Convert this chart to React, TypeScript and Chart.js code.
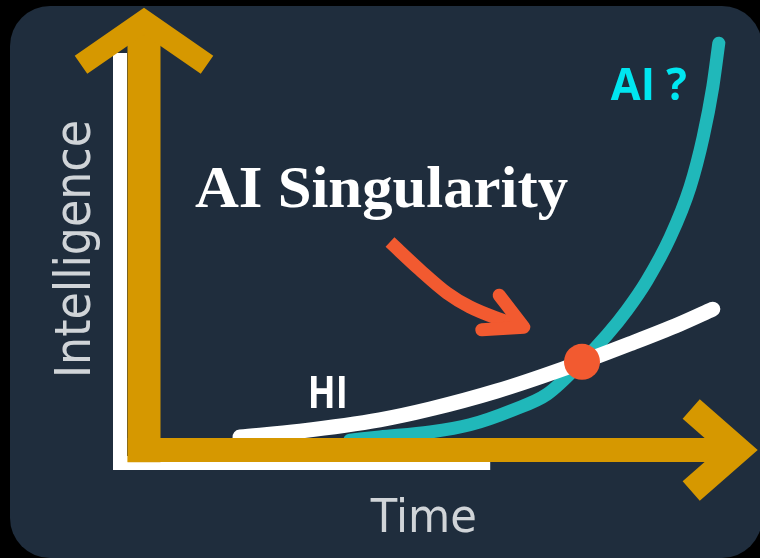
import { useEffect, useRef } from 'react';
import { Chart, registerables } from 'chart.js';

Chart.register(...registerables);

// ---- Data (x = Time, y = Intelligence, arbitrary units) ----
const hiTime = [1.6, 2.6, 3.93, 4.77, 5.88, 6.98, 8.1, 8.93, 9.48];
const hiLevel = [0.29, 0.42, 0.67, 0.91, 1.31, 1.8, 2.36, 2.8, 3.13];

const aiTime = [3.43, 3.93, 4.77, 5.43, 6.15, 6.72, 7.3, 7.72, 8.05, 8.38, 8.77, 9.1, 9.32, 9.48, 9.58];
const aiLevel = [0.22, 0.29, 0.4, 0.56, 0.89, 1.24, 1.96, 2.56, 3.11, 3.76, 4.73, 5.84, 6.96, 8.07, 9.04];

const singularityTime = [7.3];
const singularityLevel = [1.96];

// pointer arrow (annotation) in data units
const arrowShaftX = [4.1, 4.6, 5.05, 5.43, 5.88, 6.27];
const arrowShaftY = [4.62, 4.0, 3.49, 3.18, 2.93, 2.76];
const arrowHeadX = [5.92, 6.33, 5.63];
const arrowHeadY = [3.44, 2.73, 2.67];

// axes drawn as arrows
const yShaftX = [0, 0];
const yShaftY = [-0.27, 9.33];
const yHeadX = [-1.05, 0, 1.05];
const yHeadY = [8.56, 9.53, 8.56];
const xShaftX = [-0.27, 9.85];
const xShaftY = [0, 0];
const xHeadX = [9.12, 9.9, 9.12];
const xHeadY = [0.91, 0, -0.91];
const frameX = [-0.4, -0.4, 5.77];
const frameY = [8.82, -0.29, -0.29];

// text labels (anchor in data units)
const labelTexts = ['AI Singularity', 'AI ?', 'HI', 'Time', 'Intelligence'];
const labelX = [0.85, 7.78, 2.73, 3.78, -0.9];
const labelY = [5.4, 7.78, 0.93, -1.82, 1.6];

const labelStyles = [
  { font: 'bold 60px "Liberation Serif"', color: '#ffffff', width: 373, rotate: false },
  { font: 'bold 45px "Open Sans"', color: '#00e6f0', width: 76, rotate: false },
  { font: 'bold 45px "Open Sans"', color: '#ffffff', width: 40, rotate: false },
  { font: '47px "DejaVu Sans"', color: '#d0d4d8', width: 106, rotate: false },
  { font: '50px "DejaVu Sans"', color: '#d0d4d8', width: 258, rotate: true },
];

const pts = (xs: number[], ys: number[]) => xs.map((x, i) => ({ x, y: ys[i] }));

const NAVY = '#1f2d3d';
const GOLD = '#d69800';
const TEAL = '#20b8ba';
const RED = '#f25a30';

const bgPlugin = {
  id: 'bg',
  beforeDraw(chart: any) {
    const { ctx, width, height } = chart;
    ctx.save();
    ctx.fillStyle = '#000';
    ctx.fillRect(0, 0, width, height);
    ctx.fillStyle = NAVY;
    ctx.beginPath();
    (ctx as any).roundRect(10, 6, 752, 552, 40);
    ctx.fill();
    ctx.restore();
  },
};

const textPlugin = {
  id: 'texts',
  afterDatasetsDraw(chart: any) {
    const { ctx } = chart;
    const xs = chart.scales.x;
    const ys = chart.scales.y;
    labelTexts.forEach((t, i) => {
      const st = labelStyles[i];
      const px = xs.getPixelForValue(labelX[i]);
      const py = ys.getPixelForValue(labelY[i]);
      ctx.save();
      ctx.font = st.font;
      ctx.fillStyle = st.color;
      ctx.textBaseline = 'alphabetic';
      ctx.textAlign = 'left';
      const m = ctx.measureText(t).width;
      ctx.translate(px, py);
      if (st.rotate) ctx.rotate(-Math.PI / 2);
      ctx.scale(st.width / m, 1);
      ctx.fillText(t, 0, 0);
      ctx.restore();
    });
  },
};

export default function App() {
  const ref = useRef<HTMLCanvasElement>(null);

  useEffect(() => {
    document.body.style.margin = '0';
    document.body.style.background = '#000';
    const line = (data: any[], color: string, width: number, order: number, extra: any = {}) => ({
      data,
      borderColor: color,
      borderWidth: width,
      pointRadius: 0,
      pointHoverRadius: 0,
      fill: false,
      order,
      clip: false,
      ...extra,
    });
    const chart = new Chart(ref.current as HTMLCanvasElement, {
      type: 'line',
      data: {
        datasets: [
          {
            data: pts(singularityTime, singularityLevel),
            showLine: false,
            pointRadius: 18,
            pointHoverRadius: 18,
            pointBackgroundColor: RED,
            pointBorderWidth: 0,
            order: 0,
            clip: false,
          } as any,
          line(pts(arrowHeadX, arrowHeadY), RED, 13, 1, { tension: 0, borderCapStyle: 'round', borderJoinStyle: 'round' }),
          line(pts(arrowShaftX, arrowShaftY), RED, 13, 1, { cubicInterpolationMode: 'monotone', borderCapStyle: 'butt' }),
          line(pts(yHeadX, yHeadY), GOLD, 22, 2, { tension: 0, borderCapStyle: 'butt', borderJoinStyle: 'miter' }),
          line(pts(xHeadX, xHeadY), GOLD, 26, 2, { tension: 0, borderCapStyle: 'butt', borderJoinStyle: 'miter' }),
          line(pts(yShaftX, yShaftY), GOLD, 33, 3, { tension: 0, borderCapStyle: 'butt' }),
          line(pts(xShaftX, xShaftY), GOLD, 24, 3, { tension: 0, borderCapStyle: 'butt' }),
          line(pts(hiTime, hiLevel), '#ffffff', 15, 4, { cubicInterpolationMode: 'monotone', borderCapStyle: 'round' }),
          line(pts(aiTime, aiLevel), TEAL, 13, 5, { cubicInterpolationMode: 'monotone', borderCapStyle: 'round' }),
          line(pts(frameX, frameY), '#ffffff', 14, 6, { tension: 0, borderCapStyle: 'butt', borderJoinStyle: 'miter' }),
        ],
      },
      options: {
        animation: false,
        responsive: false,
        devicePixelRatio: 1,
        events: [],
        layout: { padding: 0, autoPadding: false },
        plugins: { legend: { display: false }, tooltip: { enabled: false } },
        scales: {
          x: { type: 'linear', min: -2.4, max: -2.4 + 760 / 60, display: false },
          y: { type: 'linear', min: -2.4, max: 10, display: false },
        },
      },
      plugins: [bgPlugin, textPlugin],
    });
    return () => chart.destroy();
  }, []);

  return (
    <div style={{ width: 760, height: 558, background: '#000' }}>
      <canvas ref={ref} width={760} height={558} style={{ display: 'block' }} />
    </div>
  );
}
